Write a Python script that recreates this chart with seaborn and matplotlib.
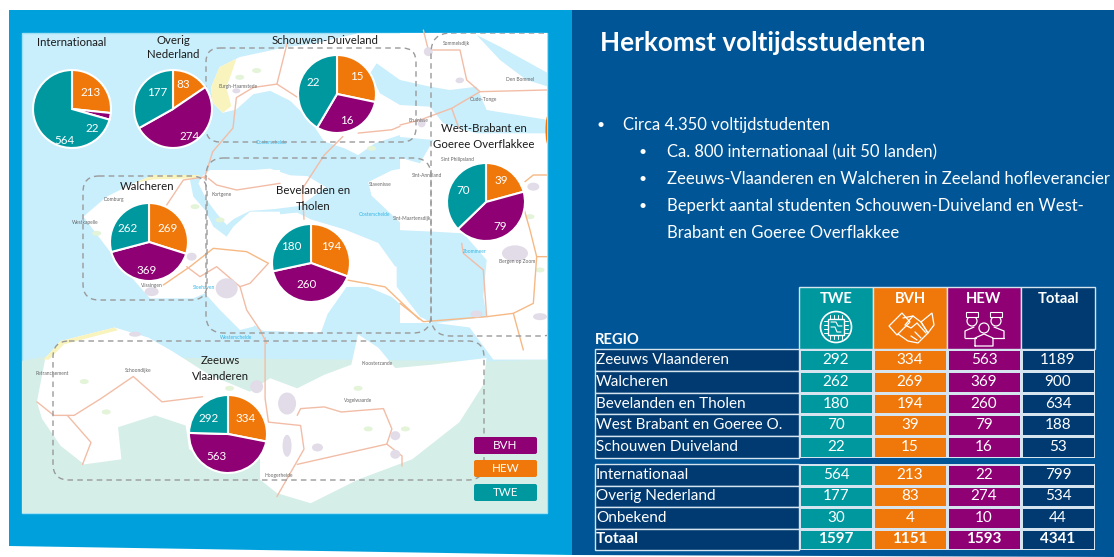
# Herkomst voltijdsstudenten: map panel with pies, table panel on the right
import matplotlib
matplotlib.use("Agg")
import matplotlib.pyplot as plt
import numpy as np
import pandas as pd
import seaborn as sns
from matplotlib.colors import ListedColormap
from matplotlib.patches import Circle, Ellipse, FancyBboxPatch, Polygon, Rectangle

# Data
regions = ["Zeeuws Vlaanderen", "Walcheren", "Bevelanden en Tholen",
           "West Brabant en Goeree O.", "Schouwen Duiveland"]
regions_low = ["Internationaal", "Overig Nederland", "Onbekend", "Totaal"]
columns = ["TWE", "BVH", "HEW", "Totaal"]
twe = [292, 262, 180, 70, 22]
bvh = [334, 269, 194, 39, 15]
hew = [563, 369, 260, 79, 16]
totaal = [1189, 900, 634, 188, 53]
twe_low = [564, 177, 30, 1597]
bvh_low = [213, 83, 4, 1151]
hew_low = [22, 274, 10, 1593]
totaal_low = [799, 534, 44, 4341]

bullets = ["Circa 4.350 voltijdstudenten"]
sub_bullets = ["Ca. 800 internationaal (uit 50 landen)",
               "Zeeuws-Vlaanderen en Walcheren in Zeeland hofleverancier",
               "Beperkt aantal studenten Schouwen-Duiveland en West-",
               "Brabant en Goeree Overflakkee"]

W, H = 1114, 557
TEAL, ORANGE, PURPLE = "#00989f", "#f0780a", "#8e0073"
NAVY, PANEL, SKY = "#003a70", "#005596", "#00a0dc"
WATER, SEA_GREEN = "#c9eefc", "#d5eee8"
ROAD, ROAD2, DASH = "#f2bda6", "#f6b985", "#9a9a9a"

sns.set_theme(style="white")
plt.rcParams["font.family"] = ["Lato", "DejaVu Sans"]

fig = plt.figure(figsize=(W / 100, H / 100), dpi=100, facecolor="white")
bg = fig.add_axes([0, 0, 1, 1])
bg.set_xlim(0, W)
bg.set_ylim(H, 0)
bg.axis("off")


def top(pts):
    return [(20 + x / 2.958, 30 + y / 2.958) for x, y in pts]


def low(pts):
    return [(20 + x / 2.958, 270 + y / 2.958) for x, y in pts]


def east(pts):
    return [(400 + x / 3, 30 + y / 3) for x, y in pts]


def mid(pts):
    return [(20 + x / 3, 170 + y / 3) for x, y in pts]


# panels
bg.add_patch(Polygon([(9, 10), (572, 10), (572, 555), (9, 546)], color=SKY, lw=0))
bg.add_patch(Polygon([(572, 10), (1114, 10), (1114, 557), (572, 555)], color=PANEL, lw=0))
map_clip = Rectangle((22, 33), 525, 480, facecolor=WATER, edgecolor="#9fe0f5", lw=1)
bg.add_patch(map_clip)

# map shapes, rough outlines of the background
p = Polygon(low([(0, 270), (75, 255), (1380, 270), (1560, 265), (1560, 740), (0, 740)]), color=SEA_GREEN, lw=0)
bg.add_patch(p)
p.set_clip_path(map_clip)

land = [
    top([(565, 170), (590, 110), (650, 80), (720, 65), (790, 50), (870, 40), (1000, 10), (1215, 10), (1215, 240),
         (1205, 270), (1190, 300), (1120, 312), (1050, 335), (1000, 370), (960, 350), (900, 330), (860, 270),
         (800, 210), (740, 180), (690, 190), (640, 235), (600, 245), (570, 215)]),
    east([(0, 0), (440, 0), (440, 880), (0, 880)]),
    top([(540, 440), (620, 420), (740, 410), (800, 430), (850, 432), (905, 465), (830, 520), (750, 530), (680, 535),
         (620, 565), (590, 540), (575, 470)]),
    top([(1030, 450), (1100, 415), (1190, 400), (1225, 440), (1225, 610), (1130, 575), (1040, 490)]),
    top([(580, 660), (620, 600), (720, 550), (820, 540), (860, 560), (960, 590), (1060, 630), (1110, 700), (1215, 760), (580, 760)]),
    mid([(190, 140), (260, 80), (340, 40), (400, 15), (540, 15), (510, 30), (520, 80), (555, 120), (580, 170), (620, 200),
         (640, 170), (690, 125), (780, 125), (780, 380), (700, 470), (660, 480), (600, 420), (555, 370), (520, 385),
         (390, 385), (350, 340), (270, 245)]),
    mid([(545, 20), (570, 0), (780, 0), (780, 105), (690, 105), (620, 165), (590, 130), (560, 90), (535, 40)]),
    low([(545, -10), (1215, -10), (1215, 60), (1180, 150), (1100, 80), (980, 30), (910, 130), (890, 185), (720, 180),
         (640, 130), (600, 90), (550, 40)]),
    low([(1215, 130), (1560, 100), (1560, 265), (1400, 265), (1330, 170), (1215, 155)]),
    low([(50, 390), (75, 260), (120, 210), (280, 170), (380, 200), (450, 240), (560, 310), (680, 360), (740, 320),
         (820, 350), (900, 310), (980, 280), (1000, 190), (1060, 230), (1110, 290), (1220, 280), (1380, 260),
         (1370, 340), (1300, 450), (1160, 560), (1000, 620), (860, 690), (760, 660), (710, 620), (710, 500),
         (620, 590), (500, 530), (490, 460), (400, 430), (290, 465), (300, 560), (190, 575), (120, 520), (65, 440)]),
]
for shape in land:
    p = Polygon(shape, facecolor="white", lw=0)
    bg.add_patch(p)
    p.set_clip_path(map_clip)

# water inside land, east side of the map
for shape in [
    east([(230, 15), (300, 50), (445, 130), (445, 170), (380, 150), (300, 90)]),
    east([(-70, 100), (0, 150), (90, 170), (150, 180), (230, 170), (260, 240), (445, 270), (445, 310), (230, 310),
          (130, 280), (90, 230), (0, 225), (-60, 190), (-90, 130)]),
    east([(-10, 320), (100, 330), (60, 400), (-10, 380)]),
    east([(-10, 600), (100, 605), (190, 610), (260, 690), (250, 800), (260, 860), (100, 880), (60, 860), (-10, 770)]),
]:
    p = Polygon(shape, facecolor=WATER, lw=0)
    bg.add_patch(p)
    p.set_clip_path(map_clip)

# dunes and small green patches
for shape in [top([(565, 170), (590, 110), (640, 85), (625, 130), (610, 170), (625, 225), (600, 245), (570, 215)]),
              low([(70, 265), (120, 210), (280, 170), (290, 178), (130, 220), (85, 265)]),
              mid([(340, 40), (400, 15), (540, 15), (530, 25), (400, 28)])]:
    bg.add_patch(Polygon(shape, facecolor="#f9f4bd", lw=0, zorder=1.5))
for x, y in top([(650, 140), (700, 120), (1440, 590), (1040, 350)]) + mid([(525, 110), (600, 150), (230, 190)]) + \
        low([(255, 420), (190, 330), (1030, 470), (1140, 470), (1000, 350), (620, 350)]) + east([(420, 720), (390, 560)]):
    bg.add_patch(Ellipse((x, y), 9, 5, facecolor="#e3f4d9", lw=0, zorder=1.5))

# roads
road_lines = [
    (top([(790, 40), (760, 160), (690, 170), (640, 200), (630, 290), (570, 360), (545, 440)]), ROAD),
    (top([(760, 160), (830, 205)]), ROAD),
    (top([(1000, 305), (1100, 295), (1124, 285)]), ROAD),
    (east([(0, 285), (60, 270), (155, 235), (240, 185), (440, 180)]), ROAD),
    (east([(155, 235), (175, 290)]), ROAD),
    (east([(70, 0), (85, 60), (180, 60), (200, 150), (240, 185)]), ROAD),
    (top([(955, 315), (900, 370), (835, 470), (840, 560)]), ROAD),
    (mid([(440, 105), (490, 30), (560, 20)]), ROAD),
    (mid([(565, 25), (590, 45), (650, 60), (780, 40)]), ROAD),
    (mid([(430, 345), (510, 290), (580, 235), (680, 245), (745, 280)]), ROAD2),
    (mid([(500, 290), (540, 320), (590, 290), (660, 350), (680, 420), (720, 480), (740, 520)]), ROAD),
    (mid([(745, 280), (690, 340), (660, 350)]), ROAD),
    (low([(970, 30), (1080, 50), (1180, 145)]), ROAD2),
    (east([(0, 820), (70, 875), (260, 860), (340, 850), (400, 820), (410, 680), (440, 680)]), ROAD2),
    (east([(340, 850), (370, 960)]), ROAD2),
    (east([(375, 455), (400, 435), (440, 435)]), ROAD2),
    (east([(410, 680), (390, 600), (370, 530)]), ROAD2),
    (east([(185, 640), (190, 670), (250, 720), (260, 860)]), ROAD),
    (low([(725, 200), (725, 380), (735, 450), (830, 460), (840, 530), (760, 670)]), ROAD),
    (low([(50, 390), (100, 430), (160, 430), (240, 380), (335, 315), (420, 390), (540, 375)]), ROAD),
    (low([(140, 430), (210, 510), (185, 575)]), ROAD),
    (low([(820, 430), (830, 410), (900, 405), (950, 420), (1075, 410), (1100, 470), (1085, 515), (1130, 550), (1130, 580)]), ROAD),
    (low([(820, 575), (1085, 515)]), ROAD),
]
for pts, col in road_lines:
    xs, ys = zip(*pts)
    bg.plot(xs, ys, color=col, lw=1, solid_capstyle="round", zorder=2)

# built up areas
for x, y, w, h in [(*east([(345, 670)])[0], 26, 16), (*east([(400, 470)])[0], 12, 8), (*east([(420, 860)])[0], 14, 7),
                   (*east([(85, 65)])[0], 9, 9), (*east([(180, 150)])[0], 8, 5), (*east([(65, 280)])[0], 8, 8),
                   (*top([(1300, 150)])[0], 8, 5), (*top([(640, 180)])[0], 8, 5), (*mid([(515, 260)])[0], 10, 8),
                   (*mid([(620, 355)])[0], 22, 20), (*mid([(395, 365)])[0], 14, 9),
                   (*low([(700, 345)])[0], 13, 13), (*low([(790, 395)])[0], 18, 22),
                   (*low([(790, 520)])[0], 9, 22), (*low([(880, 525)])[0], 11, 8), (*low([(1110, 490)])[0], 10, 9),
                   (*low([(1110, 545)])[0], 10, 9), (*low([(340, 190)])[0], 12, 5), (*low([(1350, 130)])[0], 12, 7)]:
    bg.add_patch(Ellipse((x, y), w, h, facecolor="#e2dce8", lw=0, zorder=2))
sliver = Ellipse((548, 130), 5, 30, facecolor=ORANGE, lw=0, zorder=2)
bg.add_patch(sliver)
sliver.set_clip_path(map_clip)

# small place names of the base map
for (x, y), name, col in [
    (top([(645, 168)])[0], "Burgh-Haamstede", "#666666"),
    (top([(745, 333)])[0], "Oosterschelde", "#35b5e5"),
    (top([(1050, 545)])[0], "Oosterschelde", "#35b5e5"),
    (top([(595, 487)])[0], "Kortgene", "#666666"),
    (mid([(280, 87)])[0], "Domburg", "#666666"),
    (mid([(195, 158)])[0], "Westkapelle", "#666666"),
    (mid([(395, 347)])[0], "Vlissingen", "#666666"),
    (mid([(553, 352)])[0], "Sloehaven", "#35b5e5"),
    (top([(1065, 456)])[0], "Stavenisse", "#666666"),
    (top([(1205, 430)])[0], "Sint-Annaland", "#666666"),
    (top([(1160, 558)])[0], "Sint-Maartensdijk", "#666666"),
    (top([(1290, 40)])[0], "Sommelsdijk", "#666666"),
    (top([(1480, 145)])[0], "Den Bommel", "#666666"),
    (top([(1370, 207)])[0], "Oude-Tonge", "#666666"),
    (top([(1180, 268)])[0], "Bruinisse", "#666666"),
    (top([(1295, 383)])[0], "Sint Philipsland", "#666666"),
    (east([(350, 693)])[0], "Bergen op Zoom", "#666666"),
    (east([(225, 665)])[0], "Zoommeer", "#35b5e5"),
    (low([(640, 200)])[0], "Westerschelde", "#35b5e5"),
    (low([(1000, 387)])[0], "Vogelwaarde", "#666666"),
    (low([(1055, 277)])[0], "Kloosterzande", "#666666"),
    (low([(95, 305)])[0], "Retranchement", "#666666"),
    (low([(350, 297)])[0], "Schoondijke", "#666666"),
    (low([(765, 608)])[0], "Hoogerheide", "#666666"),
]:
    bg.text(x, y, name, fontsize=3.5, color=col, ha="center", va="center", zorder=2)

# dashed region frames
for x, y, w, h, r in [(206, 48, 210, 94, 14), (83, 176, 124, 124, 16), (206, 158, 225, 175, 18),
                      (431, 33, 130, 303, 20), (53, 341, 431, 139, 16)]:
    b = FancyBboxPatch((x + r, y + r), w - 2 * r, h - 2 * r, boxstyle=f"round,pad={r},rounding_size={r}",
                       fill=False, edgecolor=DASH, lw=1, ls=(0, (4, 3)), zorder=3)
    bg.add_patch(b)
    b.set_clip_path(map_clip)

# region names on the map
for (x, y), name in [((72, 43), "Internationaal"), ((173, 40), "Overig"), ((173, 55), "Nederland"),
                     ((325, 41), "Schouwen-Duiveland"), ((484, 129), "West-Brabant en"),
                     ((484, 144), "Goeree Overflakkee"), ((147, 187), "Walcheren"),
                     ((313, 191), "Bevelanden en"), ((313, 206), "Tholen"),
                     ((220, 361), "Zeeuws"), ((220, 376), "Vlaanderen")]:
    bg.text(x, y, name, fontsize=8.2, color="#1c1c1c", ha="center", va="center", zorder=4)

# pies: values come from the table arrays, order BVH, HEW, TWE clockwise from the top
pies = [
    ((bvh_low[0], hew_low[0], twe_low[0]), (72, 109), [(19, -16), (20, 19), (-7, 32)]),
    ((bvh_low[1], hew_low[1], twe_low[1]), (173, 109), [(10, -24), (17, 28), (-16, -17)]),
    ((bvh[4], hew[4], twe[4]), (337, 94), [(20, -17), (10, 26), (-24, -11)]),
    ((bvh[3], hew[3], twe[3]), (486, 202), [(15, -21), (14, 25), (-23, -12)]),
    ((bvh[1], hew[1], twe[1]), (149, 242), [(19, -14), (-2, 28), (-21, -14)]),
    ((bvh[2], hew[2], twe[2]), (311, 263), [(20, -16), (-4, 22), (-20, -17)]),
    ((bvh[0], hew[0], twe[0]), (228, 434), [(18, -16), (-11, 22), (-19, -16)]),
]
R = 39
for vals, (cx, cy), offs in pies:
    size = 2 * R * 1.06
    ax = fig.add_axes([(cx - size / 2) / W, 1 - (cy + size / 2) / H, size / W, size / H])
    ax.pie(vals, colors=[ORANGE, PURPLE, TEAL], startangle=90, counterclock=False,
           wedgeprops={"edgecolor": "white", "linewidth": 1.5})
    ax.set_xlim(-1.06, 1.06)
    ax.set_ylim(-1.06, 1.06)
    for v, (dx, dy) in zip(vals, offs):
        ax.text(dx / R, -dy / R, str(v), color="white", fontsize=8.4, ha="center", va="center")

# legend boxes, labelled as on the slide
for y, name, col in [(437, "BVH", PURPLE), (460, "HEW", ORANGE), (484, "TWE", TEAL)]:
    bg.add_patch(FancyBboxPatch((476, y + 2), 59, 13, boxstyle="round,pad=2,rounding_size=2",
                                facecolor=col, edgecolor="none", zorder=4))
    bg.text(505.5, y + 8.5, name, color="white", fontsize=8.4, ha="center", va="center", zorder=5)

# title and bullet text
bg.text(600, 43, "Herkomst voltijdsstudenten", color="white", fontsize=18.8, fontweight="bold", va="center")
bg.text(601, 125, "•", color="white", fontsize=10, ha="center", va="center")
bg.text(623, 125, bullets[0], color="white", fontsize=12, va="center")
for i, (y, txt) in enumerate(zip([152, 179, 206, 233], sub_bullets)):
    if i < 3:
        bg.text(643, y, "•", color="white", fontsize=10, ha="center", va="center")
    bg.text(667, y, txt, color="white", fontsize=12, va="center", clip_on=True)

# table header
GRID = "#d6e4ef"
col_x = [799, 873, 947, 1021, 1095]
for x0, x1, name, col in zip(col_x[:-1], col_x[1:], columns, [TEAL, ORANGE, PURPLE, NAVY]):
    bg.add_patch(Rectangle((x0, 287), x1 - x0, 62, facecolor=col, edgecolor=GRID, lw=1))
    bg.text((x0 + x1) / 2, 299, name, color="white", fontsize=10.6, fontweight="bold", ha="center", va="center")
bg.text(595, 340, "REGIO", color="white", fontsize=10.6, fontweight="bold", va="center")

# chip icon
bg.add_patch(Circle((836, 327), 15.5, fill=False, edgecolor="white", lw=1.2))
bg.add_patch(Rectangle((828, 319), 16, 16, fill=False, edgecolor="white", lw=1))
for k in range(4):
    bg.plot([830 + 4 * k, 830 + 4 * k], [315, 319], color="white", lw=0.7)
    bg.plot([830 + 4 * k, 830 + 4 * k], [335, 339], color="white", lw=0.7)
    bg.plot([824, 828], [321 + 4 * k, 321 + 4 * k], color="white", lw=0.7)
    bg.plot([844, 848], [321 + 4 * k, 321 + 4 * k], color="white", lw=0.7)
for pts in [[(831, 322), (836, 322), (838, 326), (842, 326)], [(831, 327), (835, 327), (837, 332), (841, 332)]]:
    xs, ys = zip(*pts)
    bg.plot(xs, ys, color="white", lw=0.8)
# handshake icon
for pts in [[(889, 326), (902, 313), (910, 322), (897, 335)], [(921, 322), (932, 313), (934, 325), (928, 333)]]:
    bg.add_patch(Polygon(pts, closed=True, fill=False, edgecolor="white", lw=0.9))
for pts in [[(903, 318), (913, 316), (921, 322), (928, 333), (918, 343), (908, 341), (898, 334)],
            [(913, 316), (905, 325), (911, 328), (917, 323), (926, 333)], [(911, 336), (917, 340)], [(915, 332), (921, 338)]]:
    xs, ys = zip(*pts)
    bg.plot(xs, ys, color="white", lw=0.9)
# people icon
for x, y in [(972, 321), (996, 321), (984, 328)]:
    bg.add_patch(Circle((x, y), 5, facecolor=PURPLE, edgecolor="white", lw=0.9, zorder=3))
for x in [972, 996]:
    bg.add_patch(Rectangle((x - 6, 312), 12, 5, facecolor=PURPLE, edgecolor="white", lw=0.8, zorder=3))
for pts in [[(965, 338), (965, 331), (974, 327)], [(1004, 338), (1004, 331), (994, 327)],
            [(965, 338), (976, 338)], [(992, 338), (1004, 338)],
            [(975, 346), (975, 338), (984, 334), (993, 338), (993, 346), (975, 346)]]:
    xs, ys = zip(*pts)
    bg.plot(xs, ys, color="white", lw=0.9)

# region column
Y_BLOCKS = [(349, 458), (464, 550)]
for names, (y0, y1) in zip([regions, regions_low], Y_BLOCKS):
    ys = np.linspace(y0, y1, len(names) + 1)
    for name, a, b in zip(names, ys[:-1], ys[1:]):
        bg.add_patch(Rectangle((595, a), 204, b - a, facecolor=NAVY, edgecolor=GRID, lw=1))
        bg.text(596, (a + b) / 2, name, color="white", fontsize=11, va="center",
                fontweight="bold" if name == "Totaal" else "normal")

# number blocks through seaborn heatmaps
cmap = ListedColormap([TEAL, ORANGE, PURPLE, NAVY])
blocks = [np.column_stack([twe, bvh, hew, totaal]), np.column_stack([twe_low, bvh_low, hew_low, totaal_low])]
for values, (y0, y1) in zip(blocks, Y_BLOCKS):
    codes = pd.DataFrame(np.tile(np.arange(4), (len(values), 1)), columns=columns)
    ax = fig.add_axes([799 / W, 1 - y1 / H, 296 / W, (y1 - y0) / H])
    sns.heatmap(codes, annot=values, fmt="d", cmap=cmap, vmin=-0.5, vmax=3.5, cbar=False, linewidths=1,
                linecolor=GRID, xticklabels=False, yticklabels=False, ax=ax,
                annot_kws={"color": "white", "fontsize": 11})
    if y1 == Y_BLOCKS[1][1]:
        for t in ax.texts[-4:]:
            t.set_fontweight("bold")

fig.savefig("out.png", dpi=100)
